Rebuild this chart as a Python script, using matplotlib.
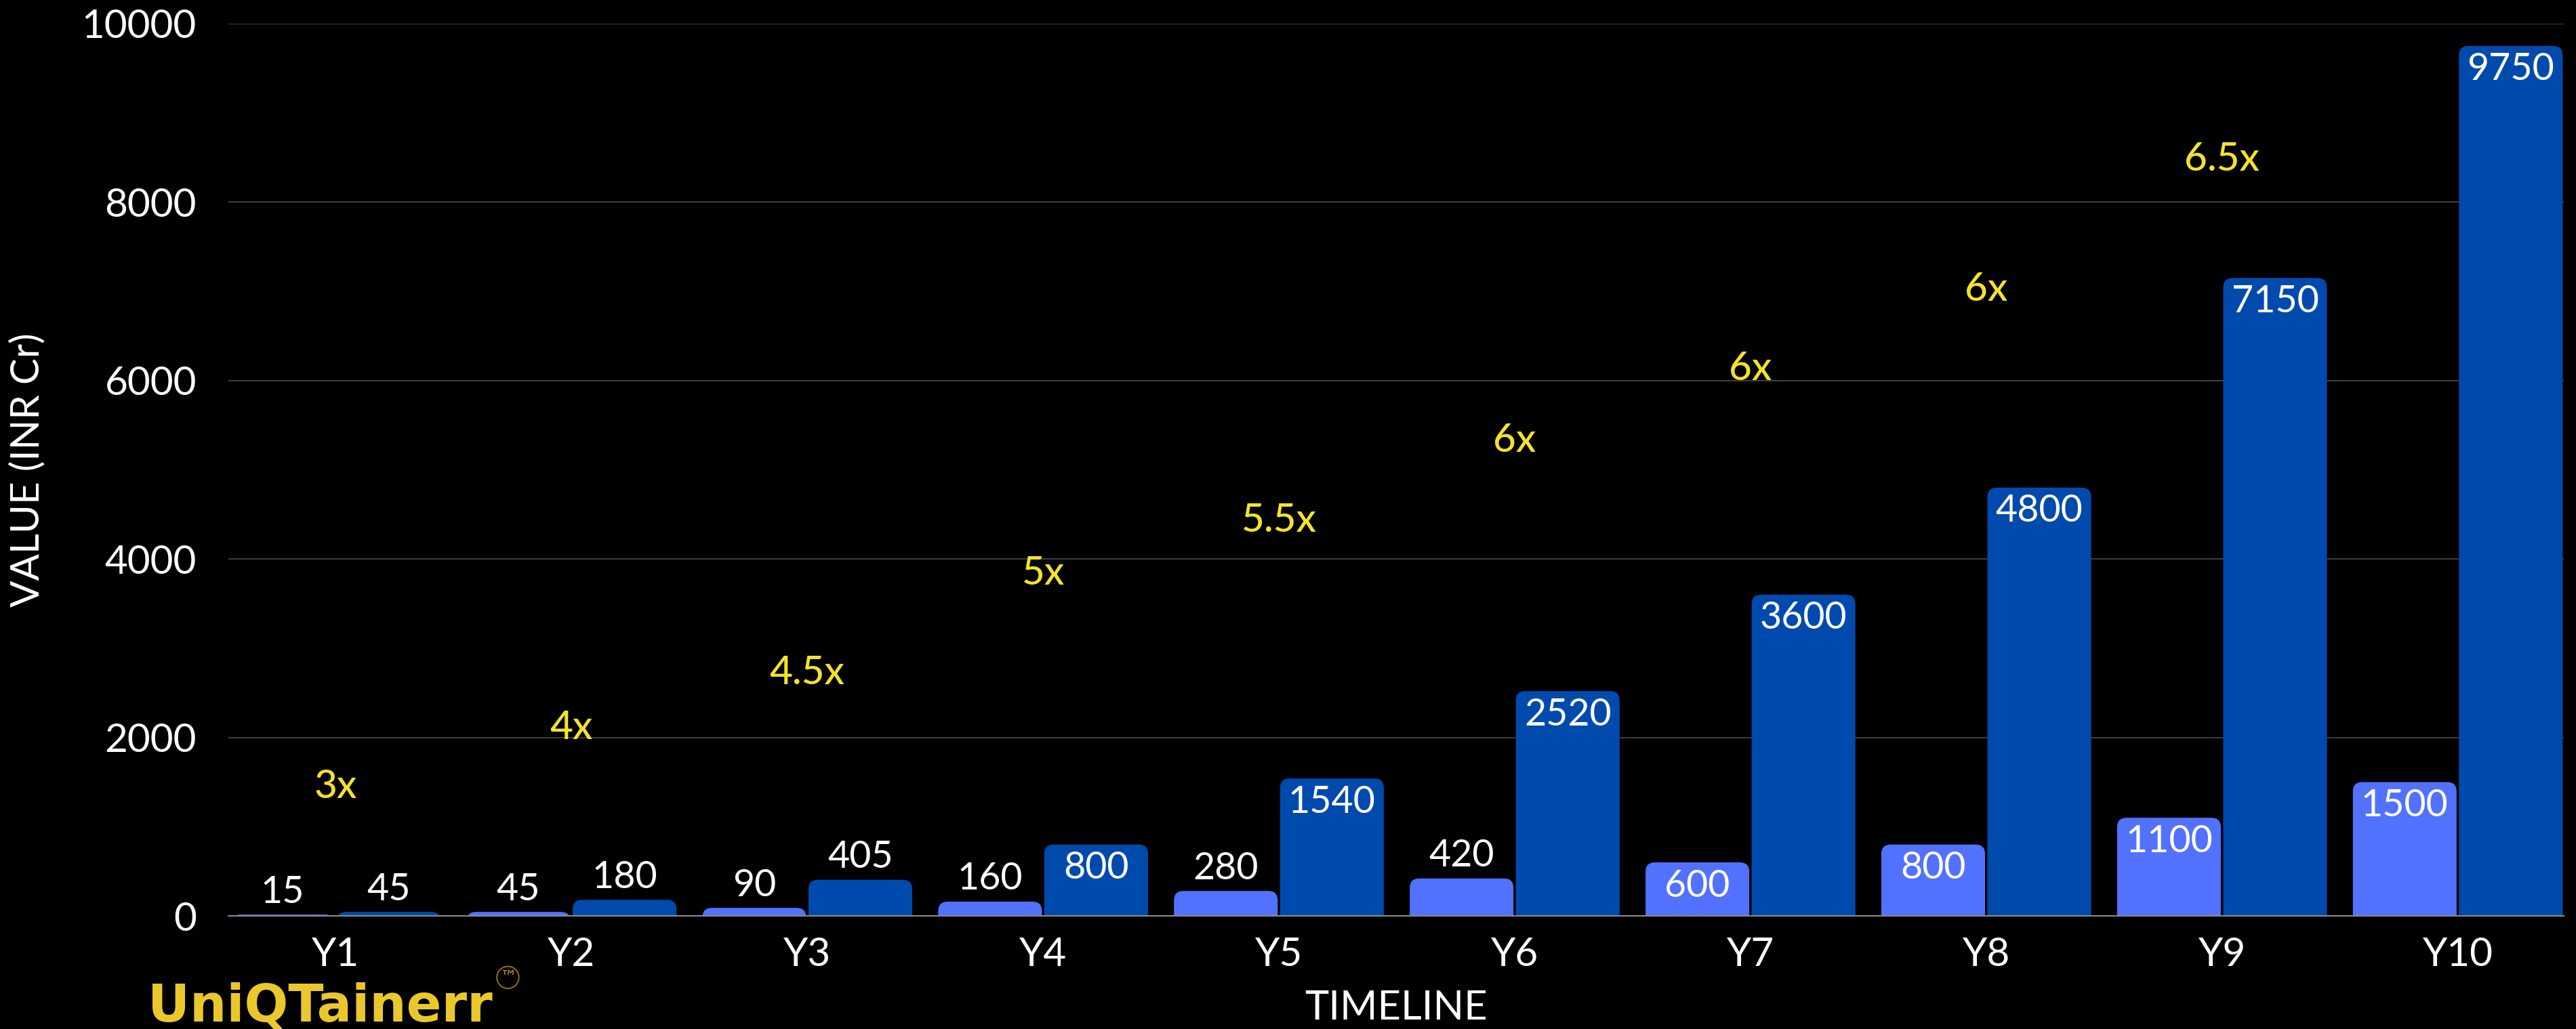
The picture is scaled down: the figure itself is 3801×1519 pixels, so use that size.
import numpy as np
import matplotlib
matplotlib.use('Agg')
import matplotlib.pyplot as plt
from matplotlib.patches import FancyBboxPatch

# data
years = ['Y1', 'Y2', 'Y3', 'Y4', 'Y5', 'Y6', 'Y7', 'Y8', 'Y9', 'Y10']
invested = [15, 45, 90, 160, 280, 420, 600, 800, 1100, 1500]
returns = [45, 180, 405, 800, 1540, 2520, 3600, 4800, 7150, 9750]
multipliers = ['3x', '4x', '4.5x', '5x', '5.5x', '6x', '6x', '6x', '6.5x']
multiplier_heights = [1450, 2110, 2720, 3840, 4430, 5330, 6130, 7020, 8480]

LIGHT = '#5271FF'
DARK = '#004AAD'
YELLOW = '#F3E32A'

plt.rcParams['font.family'] = ['Lato', 'DejaVu Sans']

fig = plt.figure(figsize=(38.01, 15.19), dpi=100, facecolor='black')
ax = fig.add_axes([0.0887, 0.1099, 0.9066, 0.8671], facecolor='black')

xmin, xmax = -0.455, 9.45
ymax = 10000
ax.set_xlim(xmin, xmax)
ax.set_ylim(0, ymax)

# pixel scale for rounded corners
bbox = ax.get_window_extent()
px_x = bbox.width / (xmax - xmin)
px_y = bbox.height / ymax
aspect = px_x / px_y
r_px = 14
r_x = r_px / px_x
r_y = r_px / px_y

bar_w = 0.44
offset = 0.225
x = np.arange(len(years))


def rounded_bar(xc, val, color):
    left = xc - bar_w / 2
    bottom = -r_y * 2
    h = val - bottom
    rr = min(r_x, (h / aspect) / 2.0, bar_w / 2)
    p = FancyBboxPatch((left, bottom), bar_w, h,
                       boxstyle=f'round,pad=0,rounding_size={rr}',
                       mutation_aspect=aspect, facecolor=color,
                       edgecolor='none', zorder=3, clip_on=True)
    ax.add_patch(p)


def value_label(xc, val):
    if val >= 600:
        ax.text(xc, val - 35 / px_y, str(val), ha='center', va='center',
                color='white', fontsize=40, zorder=5)
    else:
        ax.text(xc, val + 33 / px_y, str(val), ha='center', va='center',
                color='white', fontsize=40, zorder=5)


for i in range(len(years)):
    rounded_bar(x[i] - offset, invested[i], LIGHT)
    rounded_bar(x[i] + offset, returns[i], DARK)
    value_label(x[i] - offset, invested[i])
    value_label(x[i] + offset, returns[i])

for i, m in enumerate(multipliers):
    ax.text(x[i], multiplier_heights[i], m, ha='center', va='center',
            color=YELLOW, fontsize=42, fontweight='medium', zorder=5)

ax.set_yticks([0, 2000, 4000, 6000, 8000, 10000])
ax.set_xticks(x)
ax.set_xticklabels(years)
ax.tick_params(axis='both', length=0, labelsize=42, colors='white')
ax.tick_params(axis='y', pad=34)
ax.tick_params(axis='x', pad=22)
ax.grid(axis='y', color='#3c3c3c', linewidth=1.5, zorder=0)
ax.set_axisbelow(True)
for s in ['top', 'right', 'left']:
    ax.spines[s].set_visible(False)
ax.spines['bottom'].set_color('#8a8a8a')
ax.spines['bottom'].set_linewidth(1.5)
ax.spines['bottom'].set_zorder(4)

ax.set_ylabel('VALUE (INR Cr)', color='white', fontsize=42, labelpad=38)
ax.set_xlabel('TIMELINE', color='white', fontsize=43, labelpad=18)

# logo
logo = fig.text(0.0574, 0.007, 'UniQTainerr', color='#EAC82C', fontsize=55,
                fontweight='bold', family='DejaVu Sans',
                ha='left', va='baseline')
renderer = fig.canvas.get_renderer()
lb = logo.get_window_extent(renderer)
fig.text((lb.x1 + 10) / fig.bbox.width, 0.058, '\u2122', color='#C9A227',
         fontsize=18, family='DejaVu Sans', ha='left', va='top',
         bbox=dict(boxstyle='circle,pad=0.15', facecolor='none',
                   edgecolor='#8a6d12', linewidth=1.5))

fig.savefig('out.png', dpi=100, facecolor='black')
